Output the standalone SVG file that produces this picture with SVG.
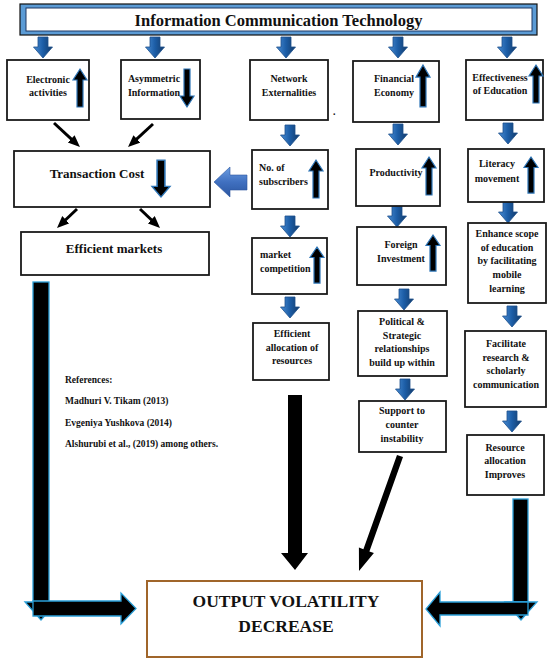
<svg xmlns="http://www.w3.org/2000/svg" xmlns:xlink="http://www.w3.org/1999/xlink" width="552" height="660" viewBox="0 0 552 660">
<style>
.box{fill:#fff;stroke:#1a1a1a;stroke-width:1.8}
.t{font-family:"Liberation Serif","Times New Roman",serif;font-weight:bold;font-size:10px;fill:#111}
.c{text-anchor:middle}
.big{font-size:13px}
.ref{font-size:9.5px}
.thin{stroke:#000;stroke-width:3;fill:none;marker-end:url(#ah)}
.blk{fill:#000;stroke:#2a9fd8;stroke-width:1.3}
.bd{fill:url(#bg);stroke:#1d4f8a;stroke-width:0.8}
</style>
<defs>
<linearGradient id="bg" x1="0" y1="0" x2="1" y2="0">
<stop offset="0" stop-color="#4a8dd4"/>
<stop offset="0.5" stop-color="#1c5da6"/>
<stop offset="1" stop-color="#143b69"/>
</linearGradient>
<linearGradient id="lg" x1="0" y1="0" x2="0" y2="1">
<stop offset="0" stop-color="#6d9fe2"/>
<stop offset="0.5" stop-color="#4070c0"/>
<stop offset="1" stop-color="#2b56a0"/>
</linearGradient>
<marker id="ah" markerUnits="userSpaceOnUse" markerWidth="12" markerHeight="11" refX="4" refY="5" orient="auto">
<path d="M0,0 L12,5 L0,10 z" fill="#000"/>
</marker>
<path id="up" d="M0,0 L7,11 L3,11 L3,38 L-3,38 L-3,11 L-7,11 Z" fill="#000" stroke="#2e75b6" stroke-width="1.2"/>
<path id="dn" d="M-5,0 L5,0 L5,10 L9.5,10 L0,21 L-9.5,10 L-5,10 Z" class="bd"/>
</defs>

<g id="ict">
<rect x="20" y="4" width="517" height="31" fill="#5b9bd5" stroke="#111" stroke-width="1.2"/>
<rect x="26" y="8" width="506" height="23" fill="#fff" stroke="#1f3864" stroke-width="1"/>
<text class="t c" x="278.5" y="25.5" style="font-size:16.5px">Information Communication Technology</text>
</g>

<g id="connectors">
<use xlink:href="#dn" x="43" y="37"/>
<use xlink:href="#dn" x="155" y="37"/>
<use xlink:href="#dn" x="286" y="37"/>
<use xlink:href="#dn" x="398" y="37"/>
<use xlink:href="#dn" x="507" y="37"/>
<use xlink:href="#dn" x="290" y="125"/>
<use xlink:href="#dn" x="398" y="124"/>
<use xlink:href="#dn" x="508" y="123"/>
<use xlink:href="#dn" x="290" y="216"/>
<use xlink:href="#dn" x="290" y="297"/>
<use xlink:href="#dn" x="397" y="206"/>
<use xlink:href="#dn" x="404" y="289"/>
<use xlink:href="#dn" x="405" y="379"/>
<use xlink:href="#dn" x="508" y="202"/>
<use xlink:href="#dn" x="512" y="306"/>
<use xlink:href="#dn" x="512" y="411"/>
<line class="thin" x1="54" y1="123" x2="74.1" y2="141.6"/>
<line class="thin" x1="153" y1="124" x2="133.9" y2="141.6"/>
<line class="thin" x1="77" y1="209" x2="62.8" y2="222.5"/>
<line class="thin" x1="140" y1="209" x2="154.2" y2="222.5"/>
<polygon points="247,175 230,175 230,167 214,182 230,197 230,190 247,190" fill="url(#lg)" stroke="#2b56a0" stroke-width="0.6"/>
<polygon points="288,395 302,395 302,553 308,553 295,570 281,553 288,553" fill="#000"/>
<polygon points="403,457.1 369.4,551.4 373.9,553 359,571 358.9,547.6 363.4,549.2 397,454.9" fill="#000"/>
<rect class="blk" x="33" y="282" width="16" height="320"/>
<polygon class="blk" points="25,602 57,602 41,620"/>
<polygon class="blk" points="33,601 121,601 121,593 136,608.5 121,624 121,616 33,616"/>
<rect class="blk" x="513" y="499" width="15" height="103"/>
<polygon class="blk" points="505,602 537,602 521,620"/>
<polygon class="blk" points="528,602 440,602 440,592 426,609 440,626 440,615 528,615"/>
</g>

<g id="electronic">
<rect class="box" x="7" y="60" width="82" height="60"/>
<text class="t c" x="48" y="83">Electronic</text>
<text class="t c" x="48" y="96">activities</text>
<use xlink:href="#up" x="80" y="69"/>
</g>
<g id="asymmetric">
<rect class="box" x="121" y="60" width="79" height="59"/>
<text class="t c" x="154" y="82">Asymmetric</text>
<text class="t c" x="154" y="96">Information</text>
<use xlink:href="#up" transform="translate(187,107) rotate(180)"/>
</g>
<g id="network">
<rect class="box" x="250" y="60" width="78" height="60"/>
<text class="t c" x="289" y="82">Network</text>
<text class="t c" x="289" y="96">Externalities</text>
<text class="t" x="333" y="115">.</text>
</g>
<g id="financial">
<rect class="box" x="353" y="61" width="86" height="61"/>
<text class="t c" x="394" y="82">Financial</text>
<text class="t c" x="394" y="96">Economy</text>
<use xlink:href="#up" transform="translate(423,65) scale(1,1.1)"/>
</g>
<g id="education">
<rect class="box" x="466" y="60" width="77" height="60"/>
<text class="t c" x="500" y="81">Effectiveness</text>
<text class="t c" x="500" y="94">of Education</text>
<use xlink:href="#up" x="536" y="65"/>
</g>
<g id="transaction">
<rect class="box" x="14" y="151" width="196" height="56"/>
<text class="t c big" x="97" y="178">Transaction Cost</text>
<use xlink:href="#up" transform="translate(161,197) rotate(180) scale(1.3,0.97)"/>
</g>
<g id="markets">
<rect class="box" x="21" y="232" width="188" height="43"/>
<text class="t c big" x="114" y="253">Efficient markets</text>
</g>
<g id="subscribers">
<rect class="box" x="252" y="150" width="76" height="59"/>
<text class="t" x="259" y="171">No. of</text>
<text class="t" x="259" y="185">subscribers</text>
<use xlink:href="#up" x="316" y="160"/>
</g>
<g id="competition">
<rect class="box" x="252" y="238" width="75" height="56"/>
<text class="t" x="260" y="258">market</text>
<text class="t" x="260" y="272">competition</text>
<use xlink:href="#up" transform="translate(317,247) scale(1,0.95)"/>
</g>
<g id="allocation">
<rect class="box" x="253" y="323" width="76" height="57"/>
<text class="t c" x="292" y="337">Efficient</text>
<text class="t c" x="292" y="351">allocation of</text>
<text class="t c" x="292" y="364">resources</text>
</g>
<g id="productivity">
<rect class="box" x="356" y="149" width="84" height="57"/>
<text class="t c" x="396" y="176">Productivity</text>
<use xlink:href="#up" x="429" y="157"/>
</g>
<g id="foreign">
<rect class="box" x="357" y="227" width="89" height="58"/>
<text class="t c" x="401" y="248">Foreign</text>
<text class="t c" x="401" y="262">Investment</text>
<use xlink:href="#up" transform="translate(433,235) scale(1,0.95)"/>
</g>
<g id="political">
<rect class="box" x="358" y="311" width="89" height="65"/>
<text class="t c" x="402" y="325">Political &amp;</text>
<text class="t c" x="402" y="339">Strategic</text>
<text class="t c" x="402" y="352">relationships</text>
<text class="t c" x="402" y="366">build up within</text>
</g>
<g id="support">
<rect class="box" x="359" y="401" width="87" height="51"/>
<text class="t c" x="402" y="414">Support to</text>
<text class="t c" x="402" y="428">counter</text>
<text class="t c" x="402" y="442">instability</text>
</g>
<g id="literacy">
<rect class="box" x="468" y="149" width="76" height="53"/>
<text class="t c" x="497" y="167">Literacy</text>
<text class="t c" x="497" y="182">movement</text>
<use xlink:href="#up" transform="translate(531,157) scale(1,0.95)"/>
</g>
<g id="enhance">
<rect class="box" x="468" y="223" width="78" height="80"/>
<text class="t c" x="507" y="237">Enhance scope</text>
<text class="t c" x="507" y="251">of education</text>
<text class="t c" x="507" y="264">by facilitating</text>
<text class="t c" x="507" y="278">mobile</text>
<text class="t c" x="507" y="292">learning</text>
</g>
<g id="facilitate">
<rect class="box" x="465" y="331" width="81" height="76"/>
<text class="t c" x="506" y="347">Facilitate</text>
<text class="t c" x="506" y="361">research &amp;</text>
<text class="t c" x="506" y="374">scholarly</text>
<text class="t c" x="506" y="388">communication</text>
</g>
<g id="resource">
<rect class="box" x="467" y="435" width="77" height="60"/>
<text class="t c" x="505" y="451">Resource</text>
<text class="t c" x="505" y="464">allocation</text>
<text class="t c" x="505" y="478">Improves</text>
</g>
<g id="references">
<text class="t ref" x="65" y="383">References:</text>
<text class="t ref" x="65" y="404">Madhuri V. Tikam (2013)</text>
<text class="t ref" x="65" y="426">Evgeniya Yushkova (2014)</text>
<text class="t ref" x="65" y="447">Alshurubi et al., (2019) among others.</text>
</g>
<g id="output">
<rect x="147" y="581" width="275" height="76" fill="#fff" stroke="#a0652a" stroke-width="2"/>
<text class="t c" x="286" y="607" style="font-size:17.5px">OUTPUT VOLATILITY</text>
<text class="t c" x="286" y="632" style="font-size:17.5px">DECREASE</text>
</g>
</svg>
